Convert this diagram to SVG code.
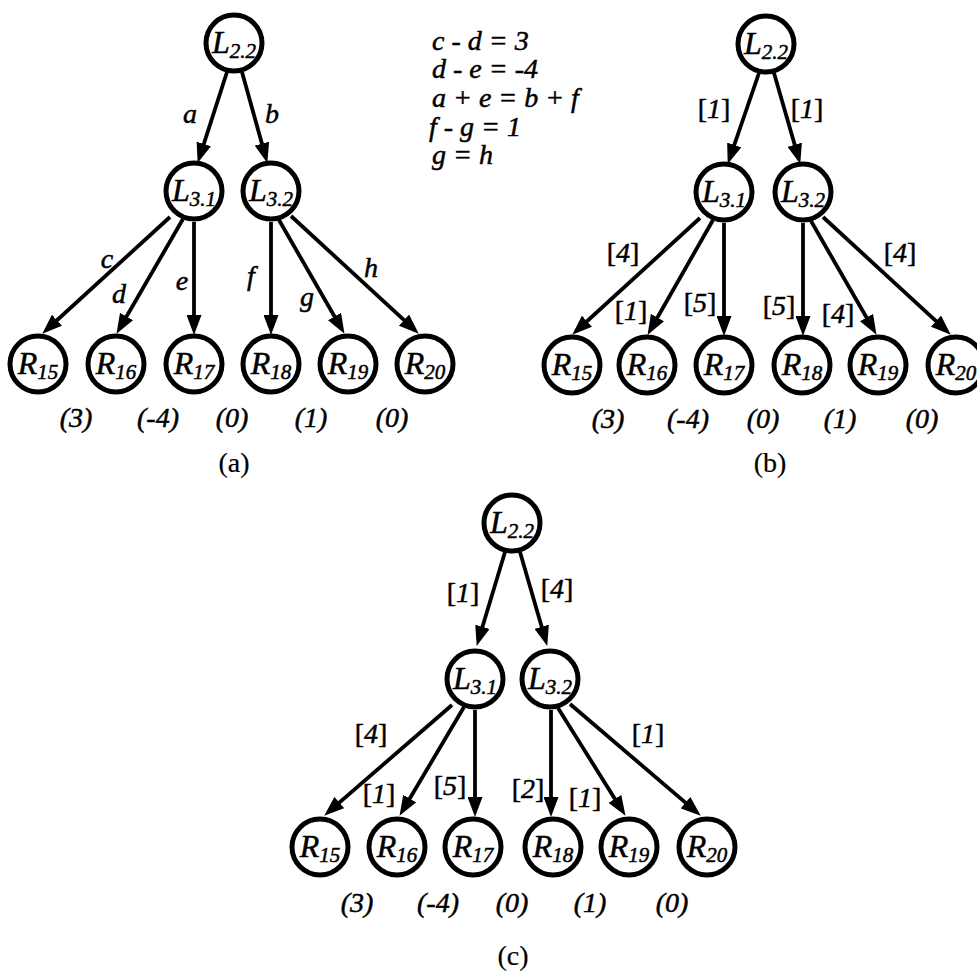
<svg xmlns="http://www.w3.org/2000/svg" width="977" height="973" viewBox="0 0 977 973">
  <style>
    text { font-family: "Liberation Serif", "Times New Roman", serif; fill: #000; stroke: #000; stroke-width: 0.5; }
    .node circle { fill: #fff; stroke: #000; stroke-width: 5; }
    .node text { font-size: 32px; font-style: italic; text-anchor: middle; }
    .node .sub { font-size: 21px; }
    .edges line { stroke: #000; stroke-width: 3.8; marker-end: url(#ah); }
    .el { font-size: 28px; font-style: italic; text-anchor: middle; }
    .el .up { font-style: normal; }
    .val { font-size: 28px; font-style: italic; text-anchor: middle; }
    .eq { font-size: 28px; font-style: italic; }
    .cap { font-size: 28px; text-anchor: middle; stroke-width: 0.2; }
  </style>
  <defs>
    <marker id="ah" markerUnits="userSpaceOnUse" markerWidth="20" markerHeight="15" refX="13" refY="7.5" orient="auto">
      <path d="M0,0 L20,7.5 L0,15 Z" fill="#000"/>
    </marker>
  </defs>
  <rect width="977" height="973" fill="#fff"/>

  <!-- ===== Panel (a) ===== -->
  <g id="edges-a" class="edges">
    <line x1="227" y1="72" x2="199.8" y2="156.3"/>
    <line x1="242" y1="72" x2="265.4" y2="156.2"/>
    <line x1="170" y1="217" x2="47.4" y2="329"/>
    <line x1="183" y1="219" x2="120" y2="327.8"/>
    <line x1="194" y1="222" x2="194" y2="328"/>
    <line x1="271" y1="222" x2="271" y2="328"/>
    <line x1="279" y1="220" x2="341" y2="327.8"/>
    <line x1="291" y1="216" x2="413.6" y2="328.9"/>
  </g>
  <g id="edge-labels-a">
    <text class="el" x="190" y="123">a</text>
    <text class="el" x="272" y="123">b</text>
    <text class="el" x="107" y="268">c</text>
    <text class="el" x="119" y="303">d</text>
    <text class="el" x="182" y="290">e</text>
    <text class="el" x="251" y="285">f</text>
    <text class="el" x="307" y="306">g</text>
    <text class="el" x="371" y="277">h</text>
  </g>
  <g id="a-L22" class="node"><circle cx="234" cy="43" r="28"/><text x="234" y="53">L<tspan class="sub" dy="5">2.2</tspan></text></g>
  <g id="a-L31" class="node"><circle cx="194" cy="191" r="28"/><text x="194" y="201">L<tspan class="sub" dy="5">3.1</tspan></text></g>
  <g id="a-L32" class="node"><circle cx="271" cy="191" r="28"/><text x="271" y="201">L<tspan class="sub" dy="5">3.2</tspan></text></g>
  <g id="a-R15" class="node"><circle cx="38" cy="364" r="28"/><text x="38" y="374">R<tspan class="sub" dy="5">15</tspan></text></g>
  <g id="a-R16" class="node"><circle cx="116" cy="364" r="28"/><text x="116" y="374">R<tspan class="sub" dy="5">16</tspan></text></g>
  <g id="a-R17" class="node"><circle cx="194" cy="364" r="28"/><text x="194" y="374">R<tspan class="sub" dy="5">17</tspan></text></g>
  <g id="a-R18" class="node"><circle cx="271" cy="364" r="28"/><text x="271" y="374">R<tspan class="sub" dy="5">18</tspan></text></g>
  <g id="a-R19" class="node"><circle cx="348" cy="364" r="28"/><text x="348" y="374">R<tspan class="sub" dy="5">19</tspan></text></g>
  <g id="a-R20" class="node"><circle cx="425" cy="364" r="28"/><text x="425" y="374">R<tspan class="sub" dy="5">20</tspan></text></g>
  <g id="values-a">
    <text class="val" x="76" y="427">(3)</text>
    <text class="val" x="158" y="427">(-4)</text>
    <text class="val" x="232" y="427">(0)</text>
    <text class="val" x="311" y="427">(1)</text>
    <text class="val" x="392" y="427">(0)</text>
  </g>
  <text class="cap" x="234" y="472">(a)</text>

  <!-- constraint equations -->
  <g id="equations">
    <text class="eq" x="432" y="50">c - d = 3</text>
    <text class="eq" x="432" y="78">d - e = -4</text>
    <text class="eq" x="432" y="107">a + e = b + f</text>
    <text class="eq" x="429" y="136">f - g = 1</text>
    <text class="eq" x="432" y="164">g = h</text>
  </g>

  <!-- ===== Panel (b) ===== -->
  <g id="edges-b" class="edges">
    <line x1="759" y1="73" x2="730" y2="157.3"/>
    <line x1="774" y1="73" x2="798.3" y2="157.2"/>
    <line x1="700" y1="218" x2="577.4" y2="330"/>
    <line x1="713" y1="220" x2="651" y2="328.8"/>
    <line x1="724" y1="223" x2="724" y2="329"/>
    <line x1="803" y1="223" x2="803" y2="329"/>
    <line x1="811" y1="221" x2="873" y2="328.8"/>
    <line x1="823" y1="217" x2="945.6" y2="329.9"/>
  </g>
  <g id="edge-labels-b">
    <text class="el" x="714" y="118"><tspan class="up">[</tspan>1<tspan class="up">]</tspan></text>
    <text class="el" x="807" y="118"><tspan class="up">[</tspan>1<tspan class="up">]</tspan></text>
    <text class="el" x="623" y="262"><tspan class="up">[</tspan>4<tspan class="up">]</tspan></text>
    <text class="el" x="631" y="320"><tspan class="up">[</tspan>1<tspan class="up">]</tspan></text>
    <text class="el" x="700" y="312"><tspan class="up">[</tspan>5<tspan class="up">]</tspan></text>
    <text class="el" x="779" y="315"><tspan class="up">[</tspan>5<tspan class="up">]</tspan></text>
    <text class="el" x="838" y="323"><tspan class="up">[</tspan>4<tspan class="up">]</tspan></text>
    <text class="el" x="900" y="262"><tspan class="up">[</tspan>4<tspan class="up">]</tspan></text>
  </g>
  <g id="b-L22" class="node"><circle cx="766" cy="44" r="28"/><text x="766" y="54">L<tspan class="sub" dy="5">2.2</tspan></text></g>
  <g id="b-L31" class="node"><circle cx="724" cy="192" r="28"/><text x="724" y="202">L<tspan class="sub" dy="5">3.1</tspan></text></g>
  <g id="b-L32" class="node"><circle cx="803" cy="192" r="28"/><text x="803" y="202">L<tspan class="sub" dy="5">3.2</tspan></text></g>
  <g id="b-R15" class="node"><circle cx="572" cy="365" r="28"/><text x="572" y="375">R<tspan class="sub" dy="5">15</tspan></text></g>
  <g id="b-R16" class="node"><circle cx="647" cy="365" r="28"/><text x="647" y="375">R<tspan class="sub" dy="5">16</tspan></text></g>
  <g id="b-R17" class="node"><circle cx="724" cy="365" r="28"/><text x="724" y="375">R<tspan class="sub" dy="5">17</tspan></text></g>
  <g id="b-R18" class="node"><circle cx="802" cy="365" r="28"/><text x="802" y="375">R<tspan class="sub" dy="5">18</tspan></text></g>
  <g id="b-R19" class="node"><circle cx="878" cy="365" r="28"/><text x="878" y="375">R<tspan class="sub" dy="5">19</tspan></text></g>
  <g id="b-R20" class="node"><circle cx="956" cy="365" r="28"/><text x="956" y="375">R<tspan class="sub" dy="5">20</tspan></text></g>
  <g id="values-b">
    <text class="val" x="608" y="428">(3)</text>
    <text class="val" x="688" y="428">(-4)</text>
    <text class="val" x="763" y="428">(0)</text>
    <text class="val" x="840" y="428">(1)</text>
    <text class="val" x="922" y="428">(0)</text>
  </g>
  <text class="cap" x="770" y="472">(b)</text>

  <!-- ===== Panel (c) ===== -->
  <g id="edges-c" class="edges">
    <line x1="505" y1="552" x2="478.7" y2="639.3"/>
    <line x1="520" y1="552" x2="545.3" y2="639.2"/>
    <line x1="452" y1="705" x2="329.5" y2="811.1"/>
    <line x1="464" y1="707" x2="403.1" y2="809.8"/>
    <line x1="475" y1="710" x2="475" y2="810"/>
    <line x1="551" y1="710" x2="551" y2="810"/>
    <line x1="558" y1="708" x2="621.8" y2="809.9"/>
    <line x1="570" y1="704" x2="695.4" y2="811.1"/>
  </g>
  <g id="edge-labels-c">
    <text class="el" x="463" y="602"><tspan class="up">[</tspan>1<tspan class="up">]</tspan></text>
    <text class="el" x="557" y="598"><tspan class="up">[</tspan>4<tspan class="up">]</tspan></text>
    <text class="el" x="371" y="743"><tspan class="up">[</tspan>4<tspan class="up">]</tspan></text>
    <text class="el" x="379" y="803"><tspan class="up">[</tspan>1<tspan class="up">]</tspan></text>
    <text class="el" x="450" y="795"><tspan class="up">[</tspan>5<tspan class="up">]</tspan></text>
    <text class="el" x="528" y="798"><tspan class="up">[</tspan>2<tspan class="up">]</tspan></text>
    <text class="el" x="585" y="807"><tspan class="up">[</tspan>1<tspan class="up">]</tspan></text>
    <text class="el" x="648" y="743"><tspan class="up">[</tspan>1<tspan class="up">]</tspan></text>
  </g>
  <g id="c-L22" class="node"><circle cx="512" cy="523" r="28"/><text x="512" y="533">L<tspan class="sub" dy="5">2.2</tspan></text></g>
  <g id="c-L31" class="node"><circle cx="475" cy="679" r="28"/><text x="475" y="689">L<tspan class="sub" dy="5">3.1</tspan></text></g>
  <g id="c-L32" class="node"><circle cx="550" cy="679" r="28"/><text x="550" y="689">L<tspan class="sub" dy="5">3.2</tspan></text></g>
  <g id="c-R15" class="node"><circle cx="320" cy="847" r="28"/><text x="320" y="857">R<tspan class="sub" dy="5">15</tspan></text></g>
  <g id="c-R16" class="node"><circle cx="397" cy="847" r="28"/><text x="397" y="857">R<tspan class="sub" dy="5">16</tspan></text></g>
  <g id="c-R17" class="node"><circle cx="473" cy="847" r="28"/><text x="473" y="857">R<tspan class="sub" dy="5">17</tspan></text></g>
  <g id="c-R18" class="node"><circle cx="553" cy="847" r="28"/><text x="553" y="857">R<tspan class="sub" dy="5">18</tspan></text></g>
  <g id="c-R19" class="node"><circle cx="629" cy="847" r="28"/><text x="629" y="857">R<tspan class="sub" dy="5">19</tspan></text></g>
  <g id="c-R20" class="node"><circle cx="707" cy="847" r="28"/><text x="707" y="857">R<tspan class="sub" dy="5">20</tspan></text></g>
  <g id="values-c">
    <text class="val" x="357" y="912">(3)</text>
    <text class="val" x="438" y="912">(-4)</text>
    <text class="val" x="512" y="912">(0)</text>
    <text class="val" x="590" y="912">(1)</text>
    <text class="val" x="672" y="912">(0)</text>
  </g>
  <text class="cap" x="513" y="965">(c)</text>
</svg>
